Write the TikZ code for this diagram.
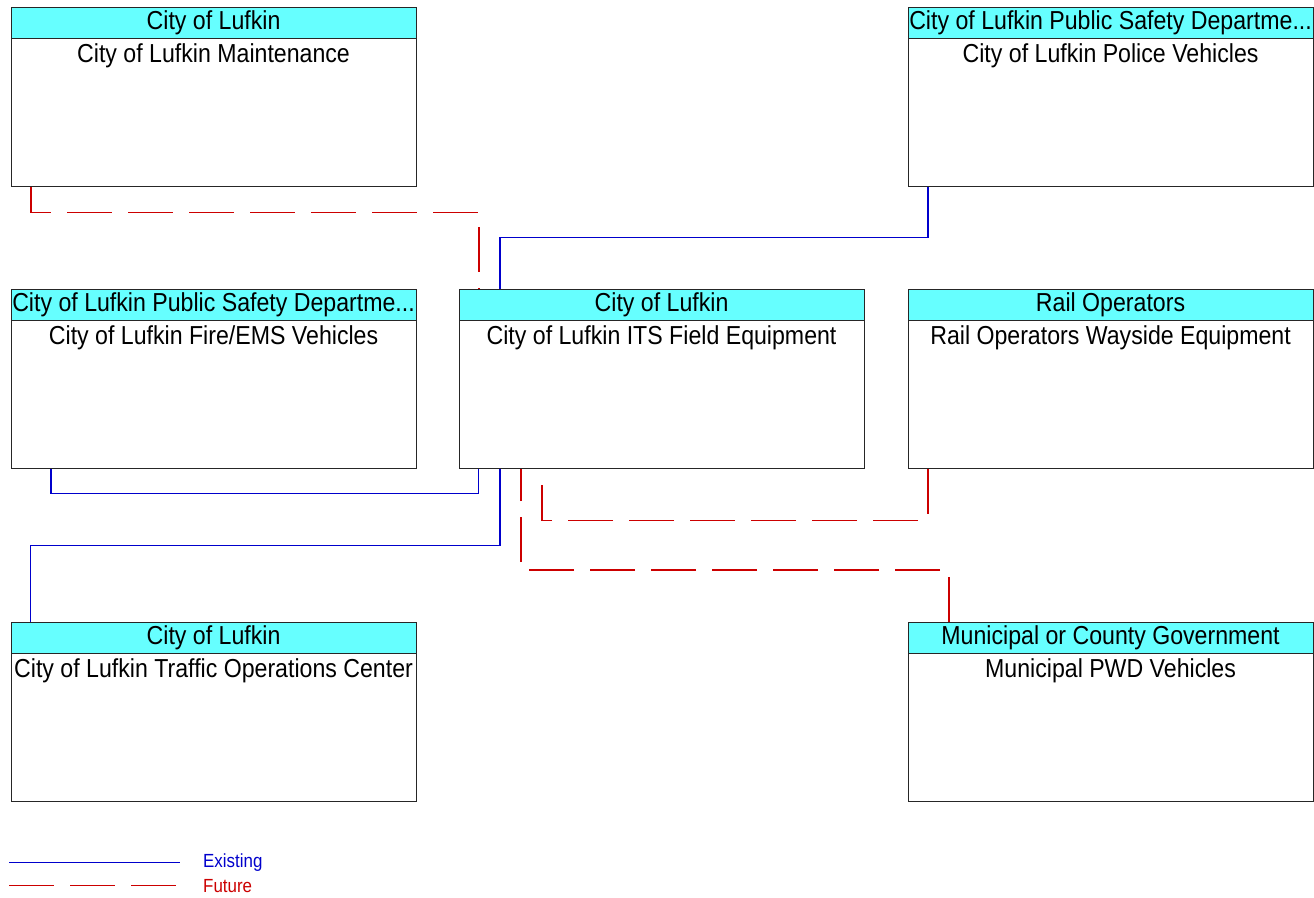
\documentclass[tikz,border=0pt]{standalone}
\usepackage{fontspec}
\setmainfont{Liberation Sans}[FakeStretch=0.89]
\usetikzlibrary{calc}
\definecolor{hdr}{RGB}{102,255,255}
\definecolor{exblue}{RGB}{0,0,204}
\definecolor{futred}{RGB}{204,0,0}
\tikzset{
  boxnode/.style={draw=black!85, line width=1.1pt, rectangle, inner sep=0pt, minimum width=405pt, minimum height=179pt, anchor=north west},
  hdrnode/.style={draw=black!85, line width=1.1pt, fill=hdr, rectangle, inner sep=0pt, minimum width=405pt, minimum height=31pt, anchor=north west, font=\fontsize{26}{30}\selectfont},
  bodytext/.style={anchor=base, inner sep=0pt, font=\fontsize{26}{30}\selectfont},
  exist/.style={draw=exblue, line width=1.1pt},
  future/.style={draw=futred, line width=1.1pt, dash pattern=on 45pt off 16pt},
  legtext/.style={anchor=west, inner sep=0pt, font=\fontsize{19}{21}\selectfont}
}
\newcommand{\sysbox}[4]{%
  \node[boxnode] (#1) at (#2) {};
  \node[hdrnode] (#1h) at (#1.north west) {#3};
  \node[bodytext] (#1b) at ([yshift=-55pt]#1.north) {#4};
}
\begin{document}
\begin{tikzpicture}[x=1pt,y=-1pt]
\useasboundingbox (0,0) rectangle (1314,897);
\sysbox{tl}{10.5,7}{City of Lufkin}{City of Lufkin Maintenance}
\sysbox{tr}{907.5,7}{City of Lufkin Public Safety Departme...}{City of Lufkin Police Vehicles}
\sysbox{ml}{10.5,289}{City of Lufkin Public Safety Departme...}{City of Lufkin Fire/EMS Vehicles}
\sysbox{c}{458.5,289}{City of Lufkin}{City of Lufkin ITS Field Equipment}
\sysbox{mr}{907.5,289}{Rail Operators}{Rail Operators Wayside Equipment}
\sysbox{bl}{10.5,622}{City of Lufkin}{City of Lufkin Traffic Operations Center}
\sysbox{br}{907.5,622}{Municipal or County Government}{Municipal PWD Vehicles}
% connectors
\draw[future] ([xshift=20.5pt]tl.south west) -- ++(0,25) -| ([xshift=20.5pt]c.north west);
\draw[exist] ([xshift=20.5pt]tr.south west) -- ++(0,50.5) -| ([xshift=41.5pt]c.north west);
\draw[exist] ([xshift=40.5pt]ml.south west) -- ++(0,24) -| ([xshift=20pt]c.south west);
\draw[exist] ([xshift=41.5pt]c.south west) -- ++(0,76) -| ([xshift=20pt]bl.north west);
\draw[future] ([xshift=20.5pt]mr.south west) -- ++(0,51) -| ([xshift=83.5pt]c.south west);
\draw[future] ([xshift=41.5pt]br.north west) -- ++(0,-52) -| ([xshift=62.5pt]c.south west);
% legend
\coordinate (l1a) at (9,862.5);
\coordinate (l1b) at (180,862.5);
\coordinate (l2a) at (9,885.5);
\coordinate (l2b) at (180,885.5);
\draw[exist] (l1a) -- (l1b);
\draw[future] (l2a) -- (l2b);
\node[legtext, text=exblue] (lex) at (203,863) {Existing};
\node[legtext, text=futred] (lfu) at (203,886) {Future};
\end{tikzpicture}
\end{document}
